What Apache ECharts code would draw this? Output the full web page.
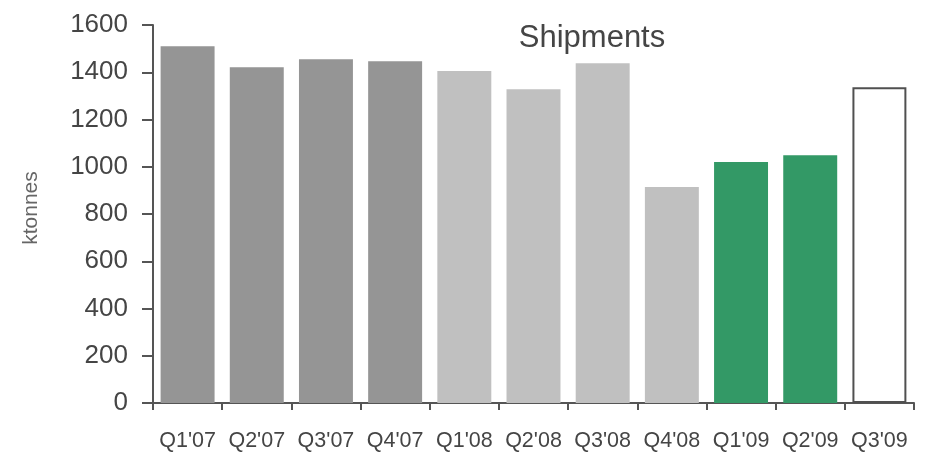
<!DOCTYPE html>
<html>
<head>
<meta charset="utf-8">
<script src="https://cdn.jsdelivr.net/npm/echarts@6/dist/echarts.min.js"></script>
<style>
  html, body { margin: 0; padding: 0; background: #ffffff; }
  #chart { width: 927px; height: 453px; }
</style>
</head>
<body>
<div id="chart"></div>
<script>
// Quarterly shipments, ktonnes
const quarters = ["Q1'07", "Q2'07", "Q3'07", "Q4'07", "Q1'08", "Q2'08", "Q3'08", "Q4'08", "Q1'09", "Q2'09", "Q3'09"];
const shipments = [1510, 1421, 1455, 1447, 1405, 1328, 1438, 914, 1020, 1049, 1337];
// Period each bar belongs to (2009 Q3 is the outlook bar)
const periods = ['2007', '2007', '2007', '2007', '2008', '2008', '2008', '2008', '2009', '2009', 'outlook'];
const yTicks = [0, 200, 400, 600, 800, 1000, 1200, 1400, 1600];

const FONT = '"Liberation Sans", Arial, sans-serif';
const INK = '#454545';
const AXIS = '#555555';

const periodStyle = {
  '2007': { color: '#959595' },
  '2008': { color: '#c0c0c0' },
  '2009': { color: '#339966' },
  'outlook': { color: '#ffffff', borderColor: '#505050', borderWidth: 2 }
};

const chart = echarts.init(document.getElementById('chart'), null, { renderer: 'canvas' });

chart.setOption({
  animation: false,
  backgroundColor: '#ffffff',
  title: {
    text: 'Shipments',
    left: 592,
    top: 23,
    padding: 0,
    textAlign: 'center',
    textStyle: { fontFamily: FONT, fontSize: 31, fontWeight: 'normal', color: INK }
  },
  grid: { left: 153, right: 13, top: 25, bottom: 50, containLabel: false },
  xAxis: {
    type: 'category',
    data: quarters,
    boundaryGap: true,
    axisLine: { lineStyle: { color: AXIS, width: 2 } },
    axisTick: { show: true, length: 7, lineStyle: { color: AXIS, width: 2 } },
    axisLabel: { fontFamily: FONT, fontSize: 21.5, color: INK, margin: 27, interval: 0 }
  },
  yAxis: {
    type: 'value',
    min: yTicks[0],
    max: yTicks[yTicks.length - 1],
    interval: yTicks[1] - yTicks[0],
    name: 'ktonnes',
    nameLocation: 'middle',
    nameRotate: 90,
    nameGap: 111,
    nameTextStyle: { fontFamily: FONT, fontSize: 21, color: '#666666', padding: [0, 0, 0, 12] },
    axisLine: { show: true, lineStyle: { color: AXIS, width: 2 } },
    axisTick: { show: true, length: 11, lineStyle: { color: AXIS, width: 2 } },
    axisLabel: { fontFamily: FONT, fontSize: 26, color: INK, margin: 25, formatter: v => String(v) },
    splitLine: { show: false }
  },
  series: [{
    type: 'bar',
    barCategoryGap: '22%',
    data: shipments.map((v, i) => ({ value: v, itemStyle: periodStyle[periods[i]] }))
  }]
});
</script>
</body>
</html>
